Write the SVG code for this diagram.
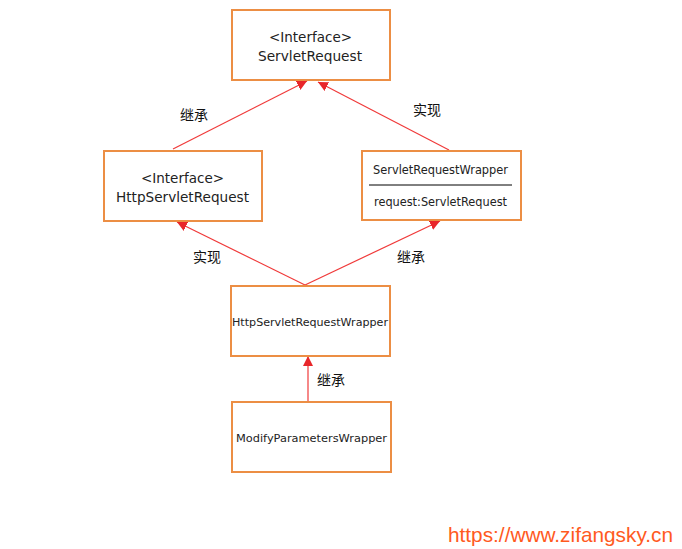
<svg xmlns="http://www.w3.org/2000/svg" width="682" height="549" viewBox="0 0 682 549">
<style>
.box{fill:#fff;stroke:#EC8E44;stroke-width:2}
.t{font-family:"DejaVu Sans",Verdana,sans-serif;fill:#222;text-anchor:middle}
.l{font-family:"Noto Sans CJK SC",sans-serif;font-size:14px;fill:#111;text-anchor:middle}
.c{stroke:#F03A3A;stroke-width:1.2;fill:none;marker-end:url(#ah)}
</style>
<defs>
<marker id="ah" viewBox="0 0 10 10" refX="10" refY="5" markerWidth="10" markerHeight="10" markerUnits="userSpaceOnUse" orient="auto">
<path d="M0,0 L10,5 L0,10 z" fill="#E8262A"/>
</marker>
</defs>
<rect width="682" height="549" fill="#fff"/>
<g id="connectors">
<line class="c" x1="173" y1="149" x2="307" y2="81"/>
<line class="c" x1="449" y1="150" x2="318" y2="82"/>
<line class="c" x1="305" y1="285" x2="177" y2="222"/>
<line class="c" x1="305" y1="285" x2="440" y2="221"/>
<line class="c" x1="308" y1="401" x2="308" y2="356"/>
<text class="l" x="194" y="120">继承</text>
<text class="l" x="427" y="115">实现</text>
<text class="l" x="207" y="262">实现</text>
<text class="l" x="411" y="262">继承</text>
<text class="l" x="331" y="385">继承</text>
</g>
<g id="servletRequest">
<rect class="box" x="232" y="10" width="158" height="70"/>
<text class="t" x="310.5" y="42" font-size="13.5" textLength="83" lengthAdjust="spacingAndGlyphs">&lt;Interface&gt;</text>
<text class="t" x="310" y="61" font-size="13.5" textLength="104" lengthAdjust="spacingAndGlyphs">ServletRequest</text>
</g>
<g id="httpServletRequest">
<rect class="box" x="104" y="151" width="158" height="70"/>
<text class="t" x="182.5" y="183" font-size="13.5" textLength="83" lengthAdjust="spacingAndGlyphs">&lt;Interface&gt;</text>
<text class="t" x="182.5" y="202" font-size="13.5" textLength="133" lengthAdjust="spacingAndGlyphs">HttpServletRequest</text>
</g>
<g id="servletRequestWrapper">
<rect class="box" x="362" y="151" width="159" height="69"/>
<text class="t" x="440.5" y="174" font-size="11.5" textLength="135" lengthAdjust="spacingAndGlyphs">ServletRequestWrapper</text>
<line x1="369" y1="185" x2="512" y2="185" stroke="#000" stroke-width="1"/>
<text class="t" x="440.5" y="206" font-size="11.5" textLength="133" lengthAdjust="spacingAndGlyphs">request:ServletRequest</text>
</g>
<g id="httpServletRequestWrapper">
<rect class="box" x="231" y="286" width="159" height="70"/>
<text class="t" x="310" y="326" font-size="11" textLength="156" lengthAdjust="spacingAndGlyphs">HttpServletRequestWrapper</text>
</g>
<g id="modifyParametersWrapper">
<rect class="box" x="232" y="402" width="159" height="70"/>
<text class="t" x="311.5" y="442" font-size="11" textLength="151" lengthAdjust="spacingAndGlyphs">ModifyParametersWrapper</text>
</g>
<text x="448" y="541.5" font-family="'Liberation Sans',Arial,sans-serif" font-size="20.8" fill="#FF5A1E" textLength="225" lengthAdjust="spacingAndGlyphs">https://www.zifangsky.cn</text>
</svg>
